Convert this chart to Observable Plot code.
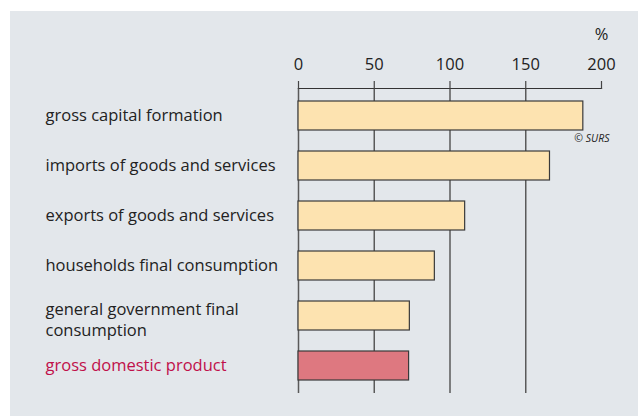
<!DOCTYPE html>
<html>
<head>
<meta charset="utf-8">
<script src="https://cdn.jsdelivr.net/npm/d3@7"></script>
<script src="https://cdn.jsdelivr.net/npm/@observablehq/plot@0.6"></script>
<style>
  html, body { margin: 0; padding: 0; background: #ffffff; }
  #chart { position: absolute; left: 10px; top: 11px; }
  #chart svg { display: block; }
</style>
</head>
<body>
<div id="chart"></div>
<script>
const categories = [
  "gross capital formation",
  "imports of goods and services",
  "exports of goods and services",
  "households final consumption",
  "general government final consumption",
  "gross domestic product"
];
const labels = [
  "gross capital formation",
  "imports of goods and services",
  "exports of goods and services",
  "households final consumption",
  "general government final\nconsumption",
  "gross domestic product"
];
const values = [188, 166, 110, 90, 73.5, 73];
const highlight = "gross domestic product";
const tickValues = [0, 50, 100, 150, 200];
const gridValues = [0, 50, 100, 150];
const unitLabel = "%";
const credit = "© SURS";

const data = categories.map((c, i) => ({cat: c, label: labels[i], value: values[i]}));
const isMulti = d => d.label.includes("\n");

const chart = Plot.plot({
  width: 628,
  height: 405,
  marginLeft: 288,
  marginRight: 37,
  marginTop: 77,
  marginBottom: 23,
  style: {background: "#e3e7eb", fontFamily: "'Open Sans', sans-serif", fontSize: "16px", color: "#222"},
  x: {domain: [0, 200], axis: null},
  y: {domain: categories, axis: null, paddingInner: 0.43, paddingOuter: 0.22},
  marks: [
    Plot.ruleX(gridValues, {stroke: "#5a5a5a", strokeWidth: 1.5}),
    Plot.frame({anchor: "top", stroke: "#333", strokeWidth: 1.2}),
    Plot.axisX(tickValues, {anchor: "top", tickSize: 8, tickPadding: 11, label: null, stroke: "#444", strokeWidth: 1.2, fontSize: 16.5, fill: "#222"}),
    Plot.barX(data, {
      x: "value", y: "cat",
      fill: d => d.cat === highlight ? "#de7880" : "#fde3b0",
      stroke: "#3a3a3a", strokeWidth: 1.2
    }),
    Plot.text(data.filter(d => !isMulti(d)), {
      y: "cat", text: "label", frameAnchor: "left", dx: -253, textAnchor: "start",
      fontSize: 16.5,
      fill: d => d.cat === highlight ? "#c0104a" : "#222"
    }),
    Plot.text(data.filter(isMulti), {
      y: "cat", text: "label", frameAnchor: "left", dx: -253, dy: 3, textAnchor: "start",
      lineHeight: 1.25, fontSize: 16.5, fill: "#222"
    }),
    Plot.text([unitLabel], {x: [200], frameAnchor: "top", dy: -60, fontSize: 16.5, fill: "#222"}),
    Plot.text([credit], {x: [200], y: [categories[0]], dx: 8, dy: 23, textAnchor: "end", fontSize: 10.5, fontStyle: "italic", fill: "#222"})
  ]
});
document.getElementById("chart").appendChild(chart);
</script>
</body>
</html>
